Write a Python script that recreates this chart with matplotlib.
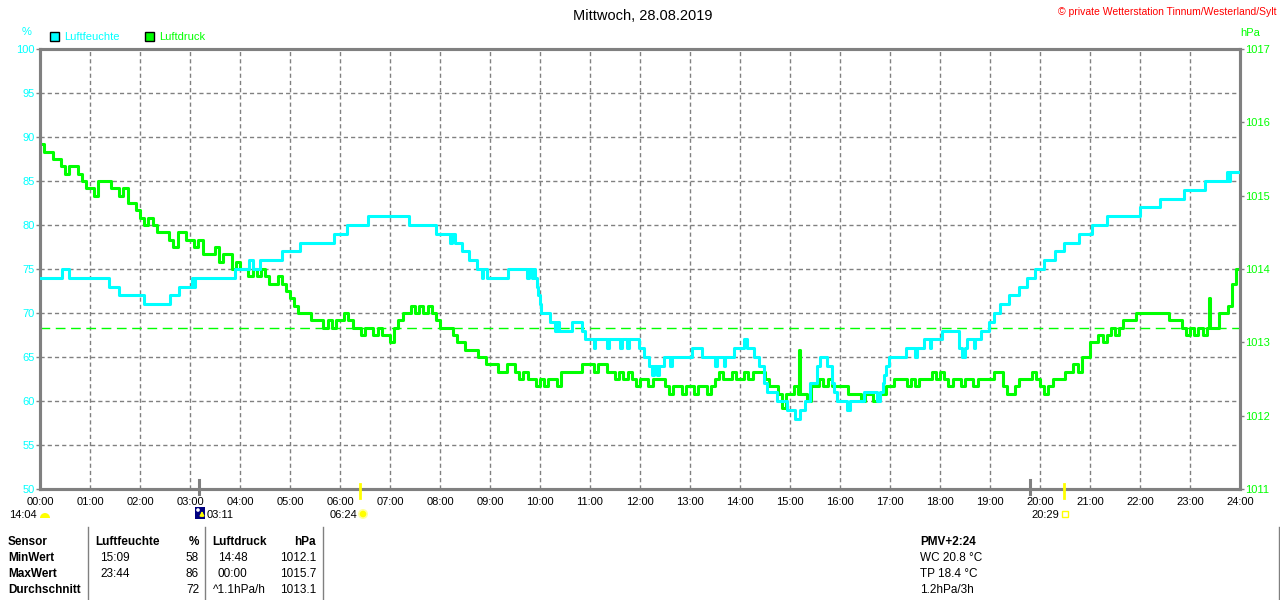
import numpy as np
import matplotlib
matplotlib.use("Agg")
import matplotlib.pyplot as plt
from matplotlib.patches import Rectangle, Wedge, Circle

plt.rcParams['font.family'] = ['Liberation Sans', 'DejaVu Sans']

CYAN = '#00FFFF'
GREEN = '#00FF00'
GRAY = '#808080'

title = "Mittwoch, 28.08.2019"
copyright_text = "\u00a9 private Wetterstation Tinnum/Westerland/Sylt"

# humidity (%), step changes: time in hours, value
hum_t = [0.00, 0.43, 0.57, 1.37, 1.57, 2.07, 2.60, 2.77, 3.03, 3.07, 3.10, 3.90,
         4.17, 4.27, 4.40, 4.83, 5.20, 5.87, 6.13, 6.55, 7.38, 7.92, 8.20, 8.23,
         8.30, 8.43, 8.57, 8.73, 8.83, 8.87, 8.93, 9.37, 9.73, 9.77, 9.83, 9.87,
         9.90, 9.93, 9.96, 9.99, 10.02, 10.20, 10.30, 10.33, 10.37, 10.63, 10.83,
         10.90, 11.07, 11.10, 11.33, 11.37, 11.60, 11.63, 11.73, 11.77, 11.97,
         12.07, 12.17, 12.23, 12.27, 12.33, 12.37, 12.47, 12.60, 12.63, 13.03,
         13.23, 13.50, 13.53, 13.67, 13.70, 13.87, 14.07, 14.13, 14.27, 14.37,
         14.47, 14.53, 14.73, 14.93, 15.10, 15.20, 15.30, 15.40, 15.53, 15.60,
         15.73, 15.83, 15.88, 15.93, 16.13, 16.20, 16.47, 16.73, 16.80, 16.85,
         16.88, 16.92, 16.97, 17.33, 17.50, 17.53, 17.67, 17.80, 17.83, 18.03,
         18.37, 18.43, 18.50, 18.53, 18.67, 18.70, 18.83, 18.97, 19.07, 19.20,
         19.37, 19.57, 19.73, 19.90, 20.07, 20.30, 20.47, 20.77, 21.03, 21.33,
         22.00, 22.40, 22.87, 23.30, 23.73, 23.77, 23.80, 24.00]
hum_v = [74, 75, 74, 73, 72, 71, 72, 73, 74, 73, 74, 75,
         76, 75, 76, 77, 78, 79, 80, 81, 80, 79, 78, 79,
         78, 77, 76, 75, 74, 75, 74, 75, 74, 75, 74, 75,
         74, 73, 72, 71, 70, 69, 68, 69, 68, 69, 68,
         67, 66, 67, 66, 67, 66, 67, 66, 67, 66,
         65, 64, 63, 64, 63, 64, 65, 64, 65, 66,
         65, 64, 65, 64, 65, 66, 67, 66, 65, 64,
         62, 61, 60, 59, 58, 59, 60, 62, 64, 65,
         64, 62, 61, 60, 59, 60, 61, 60, 61, 62,
         63, 64, 65, 66, 65, 66, 67, 66, 67, 68,
         66, 65, 66, 67, 66, 67, 68, 69, 70, 71,
         72, 73, 74, 75, 76, 77, 78, 79, 80, 81,
         82, 83, 84, 85, 86, 85, 86, 86]

# air pressure (hPa), every 5 minutes, one row per hour
press_rows = [
    [1015.7, 1015.6, 1015.6, 1015.5, 1015.5, 1015.4, 1015.3, 1015.4, 1015.4, 1015.3, 1015.2, 1015.1],
    [1015.1, 1015.0, 1015.2, 1015.2, 1015.2, 1015.1, 1015.1, 1015.0, 1015.1, 1014.9, 1014.9, 1014.8],
    [1014.7, 1014.6, 1014.7, 1014.6, 1014.5, 1014.5, 1014.5, 1014.4, 1014.3, 1014.5, 1014.5, 1014.4],
    [1014.4, 1014.3, 1014.4, 1014.2, 1014.2, 1014.2, 1014.3, 1014.1, 1014.2, 1014.2, 1014.0, 1014.1],
    [1014.0, 1014.0, 1013.9, 1014.0, 1013.9, 1014.0, 1013.9, 1013.8, 1013.8, 1013.9, 1013.8, 1013.7],
    [1013.6, 1013.5, 1013.4, 1013.4, 1013.4, 1013.3, 1013.3, 1013.3, 1013.2, 1013.3, 1013.2, 1013.3],
    [1013.3, 1013.4, 1013.3, 1013.2, 1013.2, 1013.1, 1013.2, 1013.2, 1013.1, 1013.2, 1013.1, 1013.1],
    [1013.0, 1013.2, 1013.3, 1013.4, 1013.4, 1013.5, 1013.4, 1013.5, 1013.4, 1013.5, 1013.4, 1013.3],
    [1013.2, 1013.2, 1013.2, 1013.1, 1013.0, 1013.0, 1012.9, 1012.9, 1012.9, 1012.8, 1012.8, 1012.7],
    [1012.7, 1012.7, 1012.6, 1012.6, 1012.7, 1012.7, 1012.6, 1012.5, 1012.6, 1012.5, 1012.5, 1012.4],
    [1012.5, 1012.4, 1012.5, 1012.5, 1012.4, 1012.6, 1012.6, 1012.6, 1012.6, 1012.6, 1012.7, 1012.7],
    [1012.7, 1012.6, 1012.7, 1012.7, 1012.6, 1012.6, 1012.5, 1012.6, 1012.5, 1012.6, 1012.5, 1012.4],
    [1012.5, 1012.5, 1012.4, 1012.5, 1012.5, 1012.5, 1012.4, 1012.3, 1012.4, 1012.4, 1012.3, 1012.4],
    [1012.4, 1012.3, 1012.4, 1012.4, 1012.3, 1012.4, 1012.5, 1012.6, 1012.5, 1012.5, 1012.6, 1012.5],
    [1012.5, 1012.6, 1012.5, 1012.6, 1012.6, 1012.6, 1012.5, 1012.4, 1012.4, 1012.3, 1012.1, 1012.3],
    [1012.3, 1012.4, 1012.3, 1012.3, 1012.2, 1012.4, 1012.4, 1012.5, 1012.4, 1012.5, 1012.4, 1012.4],
    [1012.4, 1012.4, 1012.3, 1012.3, 1012.3, 1012.2, 1012.3, 1012.3, 1012.2, 1012.3, 1012.3, 1012.4],
    [1012.4, 1012.5, 1012.5, 1012.5, 1012.4, 1012.5, 1012.4, 1012.5, 1012.5, 1012.5, 1012.6, 1012.5],
    [1012.6, 1012.5, 1012.4, 1012.5, 1012.5, 1012.4, 1012.5, 1012.5, 1012.4, 1012.5, 1012.5, 1012.5],
    [1012.5, 1012.6, 1012.6, 1012.4, 1012.3, 1012.3, 1012.4, 1012.5, 1012.5, 1012.5, 1012.6, 1012.5],
    [1012.4, 1012.3, 1012.4, 1012.5, 1012.5, 1012.5, 1012.6, 1012.6, 1012.7, 1012.6, 1012.8, 1012.8],
    [1013.0, 1013.0, 1013.1, 1013.0, 1013.1, 1013.2, 1013.1, 1013.2, 1013.3, 1013.3, 1013.3, 1013.4],
    [1013.4, 1013.4, 1013.4, 1013.4, 1013.4, 1013.4, 1013.4, 1013.3, 1013.3, 1013.3, 1013.2, 1013.1],
    [1013.2, 1013.1, 1013.2, 1013.1, 1013.2, 1013.2, 1013.2, 1013.4, 1013.4, 1013.5, 1013.8, 1014.0],
]
press_end = 1014.2
# short single readings (time in hours, hPa)
spike_t = [15.17, 23.37]
spike_v = [1012.9, 1013.6]
press_avg = 1013.2

# sun / moon events (hours) shown below the time axis
event_labels = ["14:04", "03:11", "06:24", "20:29"]
moon_marks = [3.18, 19.8]
sun_marks = [6.4, 20.48]

table_rows = [
    ["Sensor", "Luftfeuchte", "%", "Luftdruck", "hPa"],
    ["MinWert", "15:09", "58", "14:48", "1012.1"],
    ["MaxWert", "23:44", "86", "00:00", "1015.7"],
    ["Durchschnitt", "", "72", "^1.1hPa/h", "1013.1"],
]
side_info = ["PMV+2:24", "WC 20.8 \u00b0C", "TP 18.4 \u00b0C", "1.2hPa/3h"]

press_v = [v for row in press_rows for v in row] + [press_end]
press_t = list(np.arange(len(press_v)) / 12.0)
# merge the short spikes into the step series
for ts, vs in zip(spike_t, spike_v):
    base = press_v[int(ts * 12)]
    press_t += [ts, ts + 0.03]
    press_v += [vs, base]
order = np.argsort(press_t, kind='stable')
press_t = np.array(press_t)[order]
press_v = np.array(press_v)[order]

fig = plt.figure(figsize=(12.8, 6), dpi=100)
ax = fig.add_axes([40 / 1280, 111 / 600, 1200 / 1280, 440 / 600])
ax2 = ax.twinx()
ax.set_zorder(2)
ax.patch.set_visible(False)

# grid drawn on the lower axes so the curves stay above it
ax2.vlines(range(1, 24), 0, 1, transform=ax2.get_xaxis_transform(),
           colors=GRAY, linestyles=(0, (3, 2.2)), linewidth=1.0, zorder=1)
ax2.hlines(range(55, 100, 5), 0, 24, transform=ax.transData,
           colors=GRAY, linestyles=(0, (3, 2.2)), linewidth=1.0, zorder=1)
ax2.axhline(press_avg, color=GREEN, lw=1.0, dashes=(7, 4), zorder=2)
ax2.step(press_t, press_v, where='post', color=GREEN, lw=2.2, zorder=3)
ax.step(hum_t, hum_v, where='post', color=CYAN, lw=2.2, zorder=3)

ax.set_xlim(0, 24)
ax.set_ylim(50, 100)
ax2.set_ylim(1011, 1017)
ax.set_xticks(range(25))
ax.set_xticklabels([f"{h:02d}:00" for h in range(25)])
ax.set_yticks(range(50, 101, 5))
ax2.set_yticks(range(1011, 1018))

for a in (ax, ax2):
    for s in a.spines.values():
        s.set_color(GRAY)
        s.set_linewidth(2.2)
ax.tick_params(axis='x', length=0, labelsize=8, pad=6, labelcolor='black')
ax.tick_params(axis='y', color=GRAY, labelcolor=CYAN, length=3, width=1,
               labelsize=8, pad=1)
ax2.tick_params(axis='y', color=GRAY, labelcolor=GREEN, length=3, width=1,
                labelsize=8, pad=1)

# sun / moon ticks on the time axis
for t in moon_marks:
    ax.plot([t, t], [-0.012, 0.02], transform=ax.get_xaxis_transform(),
            color=GRAY, lw=2.2, clip_on=False, zorder=5)
for t in sun_marks:
    ax.plot([t, t], [-0.02, 0.012], transform=ax.get_xaxis_transform(),
            color='#FFFF00', lw=2.0, clip_on=False, zorder=5)

# overlay in pixel coordinates for texts, legend and table
ov = fig.add_axes([0, 0, 1, 1], zorder=10)
ov.set_xlim(0, 1280)
ov.set_ylim(600, 0)
ov.axis('off')

ov.text(643, 16, title, ha='center', va='center', fontsize=10.5)
ov.text(1276, 12, copyright_text, ha='right', va='center', fontsize=7.5,
        color='#FF0000')
ov.text(27, 32, "%", ha='center', va='center', fontsize=8, color=CYAN)
ov.text(1250, 33, "hPa", ha='center', va='center', fontsize=8, color=GREEN)

ov.add_patch(Rectangle((50, 32), 9, 9, facecolor=CYAN, edgecolor='black', lw=1))
ov.text(64, 37, "Luftfeuchte", ha='left', va='center', fontsize=8, color=CYAN)
ov.add_patch(Rectangle((145, 32), 9, 9, facecolor=GREEN, edgecolor='black', lw=1))
ov.text(159, 37, "Luftdruck", ha='left', va='center', fontsize=8, color=GREEN)

# event labels and icons
ov.text(37, 515, event_labels[0], ha='right', va='center', fontsize=8)
ov.add_patch(Wedge((45, 518), 5, 180, 360, facecolor='#FFFF00', edgecolor='none'))
ov.add_patch(Rectangle((195, 507), 10, 12, facecolor='#000080', edgecolor='none'))
ov.add_patch(Circle((198, 510), 1.8, facecolor='white', edgecolor='none'))
ov.annotate("", xy=(202, 508), xytext=(202, 519),
            arrowprops=dict(arrowstyle='-|>', color='#FFFF00', lw=1.2,
                            mutation_scale=6))
ov.text(207, 515, event_labels[1], ha='left', va='center', fontsize=8)
ov.text(357, 515, event_labels[2], ha='right', va='center', fontsize=8)
ov.add_patch(Circle((363, 514), 5, facecolor='#FFFFA0', edgecolor='none'))
ov.add_patch(Circle((363, 514), 3.3, facecolor='#FFFF00', edgecolor='none'))
ov.text(1059, 515, event_labels[3], ha='right', va='center', fontsize=8)
ov.add_patch(Rectangle((1062, 511), 6, 6, facecolor='none', edgecolor='#FFFF00', lw=1))

# statistics table
row_y = [542, 558, 574, 590]
col_x = [8, 95, 199, 212, 316]
col_ha = ['left', 'left', 'right', 'left', 'right']
for r, row in enumerate(table_rows):
    for c, txt in enumerate(row):
        x = col_x[c]
        weight = 'bold' if (r == 0 or c == 0) else 'normal'
        if r > 0 and c == 1:
            x = 100
        if r > 0 and c == 3:
            x = 218 if r < 3 else 213
        ov.text(x, row_y[r], txt, ha=col_ha[c], va='center', fontsize=8.5,
                fontweight=weight)
for x in [88, 205, 323]:
    ov.plot([x, x], [527, 600], color=GRAY, lw=1)
ov.plot([1279, 1279], [527, 600], color=GRAY, lw=1)

for i, txt in enumerate(side_info):
    ov.text(920, row_y[i], txt, ha='left', va='center', fontsize=8.5,
            fontweight='bold' if i == 0 else 'normal')

fig.savefig("out.png", dpi=100)
